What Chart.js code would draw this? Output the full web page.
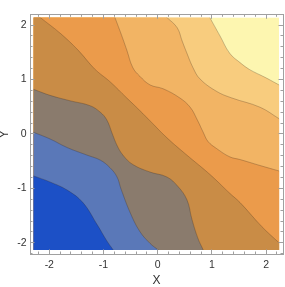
<!DOCTYPE html>
<html>
<head>
<meta charset="utf-8">
<script src="https://cdn.jsdelivr.net/npm/chart.js@4/dist/chart.umd.min.js"></script>
<style>
  html, body { margin: 0; padding: 0; background: #ffffff; }
  #wrap { width: 285px; height: 287px; position: relative; }
</style>
</head>
<body>
<div id="wrap"><canvas id="c"></canvas></div>
<script>
// ---- DATA: contour lines (x, y in data units), lowest level first ----
const contour1 = [[-2.29,-0.77],[-1.99,-0.88],[-1.67,-1.03],[-1.38,-1.26],[-1.12,-1.66],[-0.94,-1.96],[-0.82,-2.13]];
const contour2 = [[-2.29,0.03],[-1.99,-0.09],[-1.67,-0.25],[-1.30,-0.39],[-1.06,-0.48],[-0.88,-0.62],[-0.75,-0.79],[-0.68,-1.00],[-0.51,-1.44],[-0.33,-1.79],[-0.14,-2.01],[0.01,-2.13]];
const contour3 = [[-2.29,0.82],[-1.99,0.71],[-1.62,0.61],[-1.25,0.52],[-1.06,0.40],[-0.94,0.26],[-0.84,0.01],[-0.75,-0.21],[-0.64,-0.39],[-0.46,-0.56],[-0.14,-0.70],[0.17,-0.79],[0.37,-0.96],[0.54,-1.21],[0.63,-1.56],[0.74,-1.91],[0.84,-2.13]];
const contour4 = [[-2.17,2.14],[-1.80,1.85],[-1.47,1.54],[-1.16,1.19],[-0.88,0.96],[-0.57,0.66],[-0.33,0.43],[-0.14,0.24],[0.17,-0.07],[0.54,-0.39],[0.96,-0.74],[1.33,-1.09],[1.52,-1.26],[1.92,-1.70],[2.24,-2.00]];
const contour5 = [[-0.79,2.14],[-0.68,1.85],[-0.57,1.54],[-0.46,1.22],[-0.33,1.06],[-0.14,0.90],[0.10,0.83],[0.41,0.66],[0.60,0.49],[0.73,0.26],[0.84,0.03],[0.93,-0.14],[1.09,-0.27],[1.33,-0.42],[1.52,-0.47],[1.89,-0.58],[2.24,-0.68]];
const contour6 = [[0.17,2.14],[0.36,1.95],[0.45,1.71],[0.54,1.48],[0.65,1.22],[0.78,1.01],[1.09,0.78],[1.37,0.66],[1.89,0.49],[2.24,0.28]];
const contour7 = [[0.96,2.14],[1.15,1.80],[1.33,1.48],[1.52,1.31],[1.70,1.18],[1.98,1.04],[2.24,0.90]];
const xTickValues = [-2, -1, 0, 1, 2];
const yTickValues = [-2, -1, 0, 1, 2];
const xTitle = 'X';
const yTitle = 'Y';

// ---- LAYOUT / STYLE ----
const X_RANGE = [-2.356, 2.312];      // frame range
const Y_RANGE = [-2.204, 2.197];
const FILL = { xmin: -2.29, xmax: 2.24, ymin: -2.13, ymax: 2.14 }; // plotted region inside frame padding
const FAR = 3.5;
const topColor = '#fdf6b0';
const regionColors = ['#1c50c6', '#5a78b8', '#8a7b6d', '#c98c46', '#eb9b4b', '#f2b464', '#f8cc7e'];
const lineColor = 'rgba(40,30,20,0.35)';
const axisGray = '#a0a0a0';
const labelColor = '#333333';
const fontFamily = "'Liberation Sans', Arial, sans-serif";

// close each contour off outside the visible region so that fill:'start' covers the lower-left side
function extend(pts) {
  const P = pts.map(([x, y]) => ({x, y}));
  const a = P[0], a1 = P[1];
  const b = P[P.length - 1], b1 = P[P.length - 2];
  const s = {x: a.x + (a.x - a1.x) * 0.6, y: a.y + (a.y - a1.y) * 0.6};
  const e = {x: b.x + (b.x - b1.x) * 0.6, y: b.y + (b.y - b1.y) * 0.6};
  const out = [];
  if (Math.abs(a.y - FILL.ymax) < 0.03) out.push({x: -FAR, y: FAR}, {x: s.x, y: FAR});
  else out.push({x: -FAR, y: s.y});
  out.push(s, ...P, e);
  if (Math.abs(b.y - FILL.ymin) < 0.03) out.push({x: e.x, y: -FAR}, {x: FAR, y: -FAR});
  else out.push({x: FAR, y: e.y});
  return out;
}

const contours = [contour1, contour2, contour3, contour4, contour5, contour6, contour7];
const datasets = contours.map((c, i) => ({
  data: extend(c),
  borderColor: lineColor,
  borderWidth: 0.7,
  backgroundColor: regionColors[i],
  fill: 'start',
  pointRadius: 0,
  tension: 0.4,
  capBezierPoints: false
}));

const innerClip = {
  id: 'innerClip',
  beforeDatasetsDraw(chart) {
    const {ctx, scales} = chart;
    const l = scales.x.getPixelForValue(FILL.xmin), r = scales.x.getPixelForValue(FILL.xmax);
    const t = scales.y.getPixelForValue(FILL.ymax), b = scales.y.getPixelForValue(FILL.ymin);
    ctx.save();
    ctx.beginPath();
    ctx.rect(l, t, r - l, b - t);
    ctx.clip();
    ctx.fillStyle = topColor;
    ctx.fillRect(l, t, r - l, b - t);
  },
  afterDatasetsDraw(chart) { chart.ctx.restore(); }
};

const fmt = v => (v < 0 ? '-' + Math.abs(v) : String(v));
const tickFont = {family: fontFamily, size: 10.5};

function axis(pos, opts) {
  const horiz = pos === 'top' || pos === 'bottom';
  const range = horiz ? X_RANGE : Y_RANGE;
  const base = {
    type: 'linear', position: pos, min: range[0], max: range[1],
    weight: opts.major ? 1 : 0,
    afterFit: s => { if (horiz) s.height = opts.size; else s.width = opts.size; },
    ticks: { display: !!opts.labels, autoSkip: false, includeBounds: false, maxRotation: 0,
             padding: opts.pad || 0, color: labelColor, font: tickFont, callback: v => fmt(v) },
    grid: { drawOnChartArea: false, tickLength: opts.major ? -4.5 : -2.5, tickColor: axisGray, tickWidth: 1, z: 1 },
    border: { display: !!opts.major, color: axisGray, width: 1, z: 1 }
  };
  if (opts.major) {
    const vals = horiz ? xTickValues : yTickValues;
    base.afterBuildTicks = s => { s.ticks = vals.map(v => ({value: v})); };
  } else {
    base.ticks.stepSize = 0.2;
  }
  if (opts.title) {
    base.title = { display: true, text: opts.title, color: labelColor,
                   font: {family: fontFamily, size: 12}, padding: opts.titlePad };
  }
  return base;
}

new Chart(document.getElementById('c'), {
  type: 'line',
  data: { datasets },
  options: {
    responsive: true,
    maintainAspectRatio: false,
    animation: false,
    events: [],
    parsing: false,
    layout: { padding: 0 },
    plugins: { legend: { display: false }, tooltip: { enabled: false } },
    scales: {
      x: axis('bottom', {major: true, size: 33, labels: true, pad: 9, title: xTitle, titlePad: {top: 0, bottom: -1}}),
      y: axis('left', {major: true, size: 30, labels: true, pad: 8, title: yTitle, titlePad: {top: -2.5, bottom: 0}}),
      xMinor: axis('bottom', {major: false, size: 0}),
      yMinor: axis('left', {major: false, size: 0}),
      xTop: axis('top', {major: true, size: 2}),
      xTopMinor: axis('top', {major: false, size: 0}),
      yRight: axis('right', {major: true, size: 2}),
      yRightMinor: axis('right', {major: false, size: 0})
    }
  },
  plugins: [innerClip]
});
</script>
</body>
</html>
